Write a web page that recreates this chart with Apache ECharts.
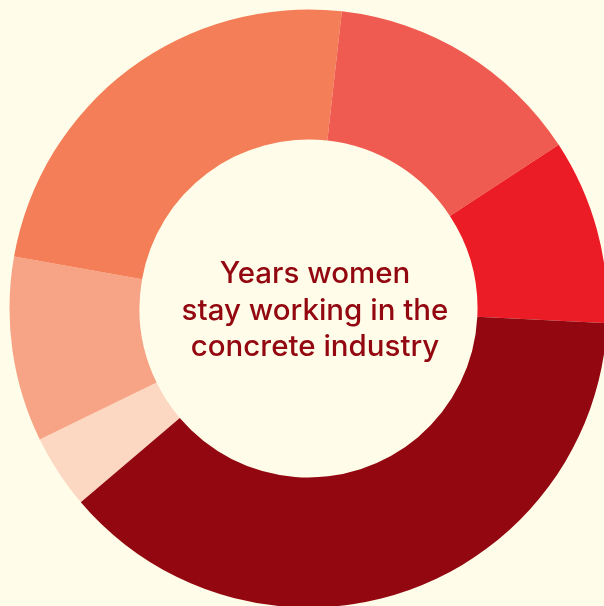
<!DOCTYPE html>
<html>
<head>
<meta charset="utf-8">
<script src="https://cdn.jsdelivr.net/npm/echarts@6/dist/echarts.min.js"></script>
<style>
html,body{margin:0;padding:0;background:#fffde9;}
#chart{width:604px;height:606px;}
</style>
</head>
<body>
<div id="chart"></div>
<script>
const categories = ["Group 1", "Group 2", "Group 3", "Group 4", "Group 5", "Group 6"];
const values = [4, 10, 24, 14, 10, 38];
const colors = ["#fcd8c3", "#f7a385", "#f37e57", "#f05b51", "#ec1c27", "#930810"];
const centerText = "Years women\nstay working in the\nconcrete industry";

const chart = echarts.init(document.getElementById('chart'), null, {renderer: 'canvas'});
chart.setOption({
  backgroundColor: '#fffde9',
  animation: false,
  series: [{
    type: 'pie',
    center: [308.5, 308.5],
    radius: [169, 299],
    startAngle: 90 - 229.6,
    clockwise: true,
    label: {show: false},
    labelLine: {show: false},
    emphasis: {disabled: true},
    itemStyle: {borderWidth: 0},
    data: categories.map((c, i) => ({name: c, value: values[i], itemStyle: {color: colors[i]}}))
  }],
  graphic: [{
    type: 'text',
    x: 315,
    y: 311,
    style: {
      text: centerText,
      fill: '#930810',
      font: '500 29.5px Inter, "Liberation Sans", Arial, sans-serif',
      align: 'center',
      verticalAlign: 'middle',
      lineHeight: 36.5
    }
  }]
});
</script>
</body>
</html>
